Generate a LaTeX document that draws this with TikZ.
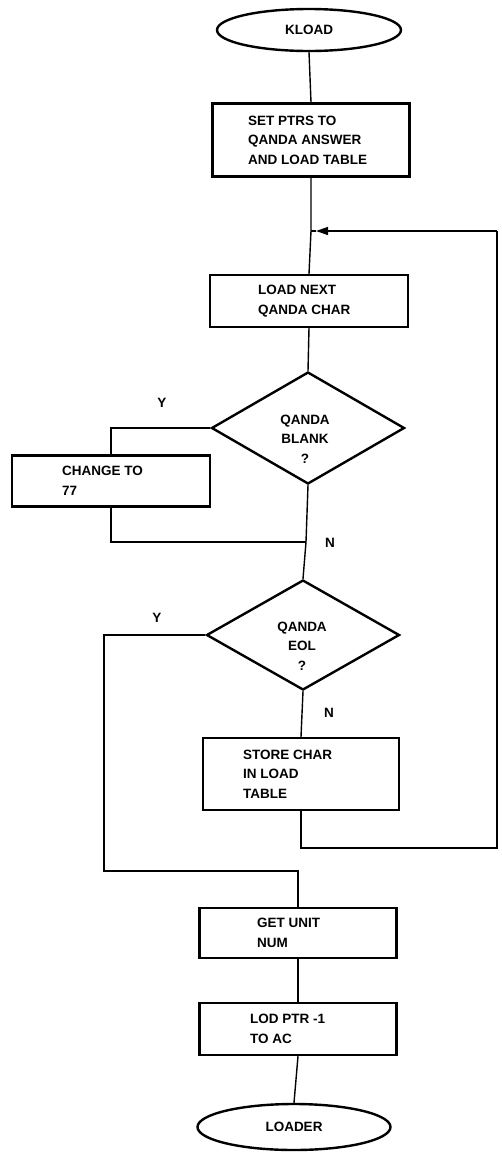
\documentclass[tikz,border=0pt]{standalone}
\usepackage{fontspec}
\setmainfont{Liberation Sans}
\usetikzlibrary{shapes.geometric,arrows.meta,calc}
\begin{document}
\begin{tikzpicture}[x=1pt,y=-1pt,
  every node/.style={font=\fontsize{13.5}{19.5}\selectfont\bfseries},
  box/.style={draw,line width=2.4pt,rectangle,inner sep=0pt},
  term/.style={draw,line width=2.4pt,ellipse,inner sep=0pt},
  dec/.style={draw,line width=2.4pt,diamond,inner sep=0pt},
  txt/.style={align=left,inner sep=0pt,anchor=west},
  ctxt/.style={align=center,inner sep=0pt},
  lab/.style={inner sep=0pt},
  conn/.style={line width=1.4pt},
  arr/.style={line width=1.4pt,-{Triangle[length=12pt,width=8pt]}}]
\useasboundingbox (0,0) rectangle (502,1152);
% nodes
\node[term,minimum width=184pt,minimum height=42pt] (k) at (309,30) {};
\node[lab] (kt) at (309,30) {KLOAD};
\node[box,minimum width=197pt,minimum height=73pt] (b1) at (311,140) {};
\node[txt] (b1t) at (248,140) {SET PTRS TO\\QANDA ANSWER\\AND LOAD TABLE};
\coordinate (j) at (311,231);
\node[box,minimum width=198pt,minimum height=52pt] (b2) at (309,301) {};
\node[txt] (b2t) at (258,301) {LOAD NEXT\\QANDA CHAR};
\node[dec,minimum width=193pt,minimum height=112pt] (d1) at (308,428) {};
\node[ctxt] (d1t) at (305,439) {QANDA\\BLANK\\?};
\node[box,minimum width=198pt,minimum height=51pt] (b3) at (111,481) {};
\node[txt] (b3t) at (62,481) {CHANGE TO\\77};
\coordinate (m1) at (306,542);
\node[dec,minimum width=193pt,minimum height=110pt] (d2) at (303,635) {};
\node[ctxt] (d2t) at (302,646) {QANDA\\EOL\\?};
\node[box,minimum width=196pt,minimum height=72pt] (b4) at (301,774) {};
\node[txt] (b4t) at (243,774) {STORE CHAR\\IN LOAD\\TABLE};
\coordinate (rc) at (497,848);
\coordinate (rt) at (497,231);
\coordinate (ah) at (316,231);
\coordinate (yl) at (104,871);
\node[box,minimum width=197pt,minimum height=50pt] (b5) at (298,933) {};
\node[txt] (b5t) at (257,933) {GET UNIT\\NUM};
\node[box,minimum width=197pt,minimum height=52pt] (b6) at (298,1029) {};
\node[txt] (b6t) at (250,1029) {LOD PTR -1\\TO AC};
\node[term,minimum width=193pt,minimum height=46pt] (e) at (294,1127) {};
\node[lab] (et) at (294,1127) {LOADER};
% labels
\node[lab] (y1) at (162,403) {Y};
\node[lab] (n1) at (330,543) {N};
\node[lab] (y2) at (157,618) {Y};
\node[lab] (n2) at (329,713) {N};
% connectors
\draw[conn] (k.south) -- (b1.north);
\draw[conn] (b1.south) -- (j) -- (b2.north);
\draw[conn] (b2.south) -- (d1.north);
\draw[conn] (d1.west) -| (b3.north);
\draw[conn] (b3.south) |- (m1);
\draw[conn] (d1.south) -- (m1) -- (d2.north);
\draw[conn] (d2.south) -- (b4.north);
\draw[conn] (b4.south) |- (rc) -- (rt);
\draw[arr] (rt) -- (ah);
\draw[conn] (ah) -- (j);
\draw[conn] (d2.west) -| (yl) -| (b5.north);
\draw[conn] (b5.south) -- (b6.north);
\draw[conn] (b6.south) -- (e.north);
\end{tikzpicture}
\end{document}
